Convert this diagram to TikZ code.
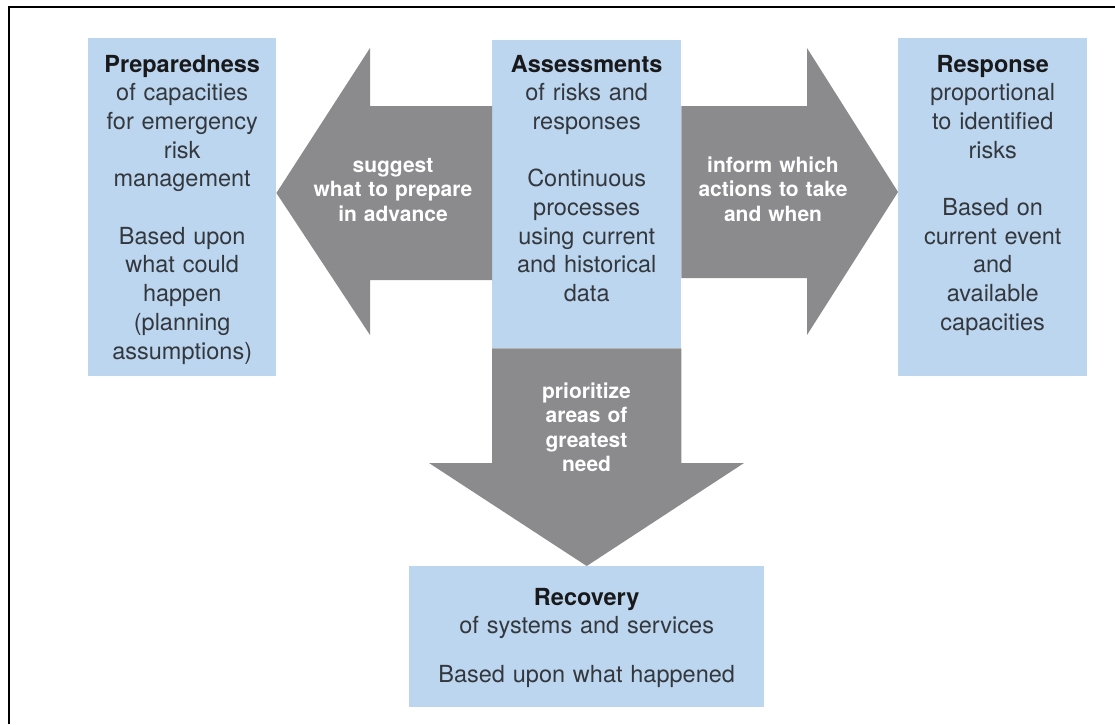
\documentclass[tikz,border=0pt]{standalone}
\usepackage{fontspec}
\setmainfont{TeX Gyre Heros}
\definecolor{boxblue}{RGB}{187,214,238}
\definecolor{arrowgray}{RGB}{139,139,142}
\definecolor{bodytext}{RGB}{52,56,62}
\definecolor{headtext}{RGB}{25,25,28}
\newcommand\paneltitle[1]{{\color{headtext}\bfseries #1}}
\begin{document}
\begin{tikzpicture}[x=1pt,y=-1pt,
  panel/.style={fill=boxblue, draw=none, inner sep=0pt, anchor=north west},
  paneltext/.style={text=bodytext, align=center, inner sep=0pt, anchor=base,
    text width=#1, font=\fontsize{23.5}{28.7}\selectfont},
  blockarrow/.style={fill=arrowgray, draw=none},
  arrowtext/.style={text=white, align=center, inner sep=0pt, anchor=base,
    text width=170pt, font=\bfseries\fontsize{21}{24.6}\selectfont}]
\useasboundingbox (0,0) rectangle (1115,724);
\fill[white] (0,0) rectangle (1115,724);
% frame
\draw[line width=2pt, line join=miter] (9,724) -- (9,6.5) -- (1115,6.5);

% panels
\node[panel, minimum width=188pt, minimum height=338pt] (prep) at (88,38) {};
\node[panel, minimum width=189pt, minimum height=308pt] (assess) at (492,40) {};
\node[panel, minimum width=189pt, minimum height=338pt] (resp) at (898,38) {};
\node[panel, minimum width=355pt, minimum height=141pt] (recov) at (409,566) {};

% panel texts
\node[paneltext=188pt] (preptext) at (prep.north |- 0,72)
  {\paneltitle{Preparedness}\\of capacities\\for emergency\\risk\\management\\[28.7pt]Based upon\\what could\\happen\\(planning\\assumptions)};
\node[paneltext=189pt] (assesstext) at (assess.north |- 0,72)
  {\paneltitle{Assessments}\\of risks and\\responses\\[28.7pt]Continuous\\processes\\using current\\and historical\\data};
\node[paneltext=189pt] (resptext) at (resp.north |- 0,72)
  {\paneltitle{Response}\\proportional\\to identified\\risks\\[28.7pt]Based on\\current event\\and\\available\\capacities};
\node[paneltext=355pt] (recovtext) at (recov.north |- 0,605)
  {\paneltitle{Recovery}\\of systems and services\\[20.3pt]Based upon what happened};

% block arrows
\fill[blockarrow] (assess.west |- 0,106) -- (370,106) -- (370,48)
  -- (prep.east |- 0,193) -- (370,335) -- (370,280) -- (assess.west |- 0,280) -- cycle;
\fill[blockarrow] (assess.east |- 0,106) -- (807,106) -- (807,48)
  -- (resp.west |- 0,192) -- (807,335) -- (807,278) -- (assess.east |- 0,278) -- cycle;
\fill[blockarrow] (assess.south west) -- (assess.south east) -- (assess.south east |- 0,463)
  -- (744,463) -- (recov.north) -- (429,463) -- (assess.south west |- 0,463) -- cycle;

% arrow labels
\node[arrowtext] (ltext) at (393,172) {suggest\\what to prepare\\in advance};
\node[arrowtext] (rtext) at (773,172) {inform which\\actions to take\\and when};
\node[arrowtext] (dtext) at (586.5,398) {prioritize\\areas of\\greatest\\need};
\end{tikzpicture}
\end{document}
